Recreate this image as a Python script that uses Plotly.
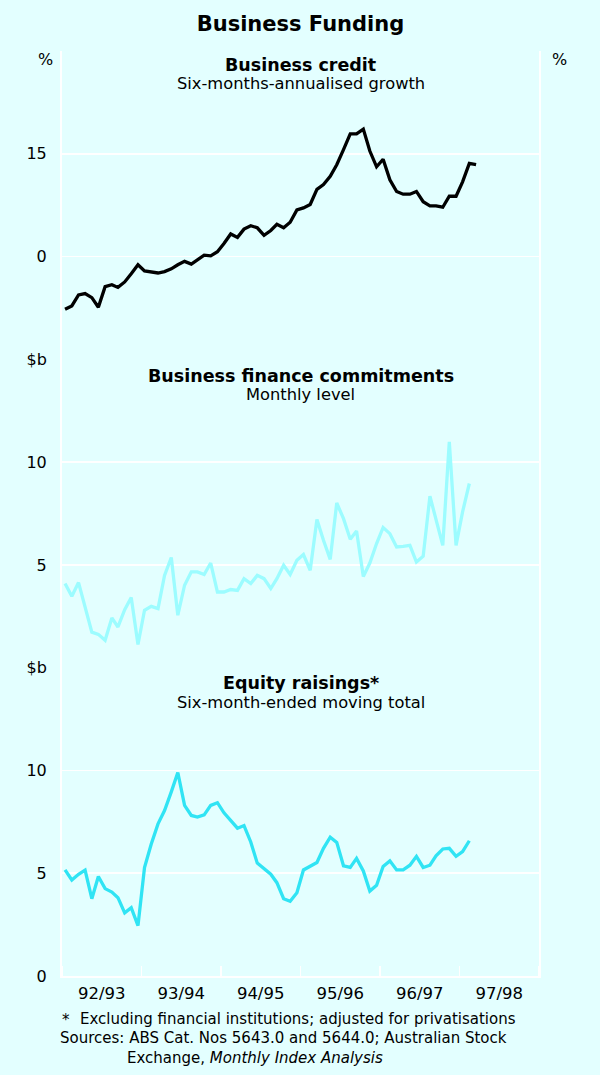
import pandas as pd
import plotly.graph_objects as go

# ---------------- data ----------------
fy_labels = ["92/93", "93/94", "94/95", "95/96", "96/97", "97/98"]
start_month = "1992-07-01"

credit = [-7.7, -7.2, -5.6, -5.4, -6.0, -7.4, -4.4, -4.1, -4.5, -3.7,
          -2.5, -1.2, -2.1, -2.2, -2.4, -2.2, -1.8, -1.2, -0.7, -1.1,
          -0.5, 0.2, 0.1, 0.7, 1.9, 3.3, 2.8, 4.0, 4.5, 4.2,
          3.1, 3.8, 4.7, 4.2, 5.0, 6.8, 7.1, 7.6, 9.8, 10.5,
          11.7, 13.4, 15.6, 17.9, 17.9, 18.6, 15.4, 13.1, 14.2, 11.2,
          9.5, 9.1, 9.1, 9.5, 8.0, 7.4, 7.4, 7.2, 8.8, 8.8,
          10.9, 13.6, 13.4]

commitments = [4.09, 3.47, 4.14, 2.95, 1.73, 1.62, 1.33, 2.42, 1.98, 2.82,
               3.41, 1.13, 2.79, 2.98, 2.87, 4.49, 5.36, 2.55, 4.01, 4.66,
               4.66, 4.53, 5.09, 3.68, 3.68, 3.80, 3.76, 4.33, 4.09, 4.49,
               4.33, 3.85, 4.33, 4.98, 4.53, 5.22, 5.50, 4.74, 7.21, 6.20,
               5.27, 8.01, 7.25, 6.25, 6.65, 4.44, 5.09, 6.04, 6.82, 6.52,
               5.87, 5.90, 5.95, 5.14, 5.42, 8.34, 7.17, 5.95, 10.98, 5.95,
               7.58, 8.96]

equity = [5.16, 4.67, 4.95, 5.15, 3.76, 4.84, 4.25, 4.08, 3.81, 3.07,
          3.32, 2.45, 5.28, 6.42, 7.40, 8.05, 8.96, 9.90, 8.30, 7.81,
          7.73, 7.84, 8.30, 8.43, 7.94, 7.55, 7.19, 7.32, 6.52, 5.49,
          5.20, 4.95, 4.54, 3.76, 3.64, 4.05, 5.16, 5.33, 5.52, 6.21,
          6.75, 6.50, 5.36, 5.28, 5.72, 5.11, 4.13, 4.41, 5.33, 5.60,
          5.16, 5.16, 5.39, 5.82, 5.28, 5.39, 5.85, 6.18, 6.21, 5.82,
          6.05, 6.58]

panel_titles = ["Business credit", "Business finance commitments", "Equity raisings*"]
panel_subtitles = ["Six-months-annualised growth", "Monthly level", "Six-month-ended moving total"]

credit_ticks = [-15, 0, 15, 30]
credit_ticktext = ["", "0", "15", ""]
dollar_ticks = [0, 5, 10, 15]
commit_ticktext = ["", "5", "10", "$b"]
equity_ticktext = ["0", "5", "10", "$b"]

# ---------------- styling ----------------
BG = "#E3FFFF"
FONT = "DejaVu Sans"
GRID = "white"
TICK_SIZE = 16


def month_dates(n):
    return pd.date_range(start_month, periods=n, freq="MS") + pd.Timedelta(days=14)


year_starts = pd.date_range(start_month, periods=len(fy_labels) + 1, freq="12MS")
mid_years = [year_starts[i] + (year_starts[i + 1] - year_starts[i]) / 2 for i in range(len(fy_labels))]
x_range = [year_starts[0], year_starts[-1]]

fig = go.Figure()
fig.add_trace(go.Scatter(x=month_dates(len(credit)), y=credit, mode="lines",
                         line=dict(color="black", width=3.3), xaxis="x", yaxis="y",
                         showlegend=False, hoverinfo="skip"))
fig.add_trace(go.Scatter(x=month_dates(len(commitments)), y=commitments, mode="lines",
                         line=dict(color="#9CFCFF", width=3.3), xaxis="x", yaxis="y2",
                         showlegend=False, hoverinfo="skip"))
fig.add_trace(go.Scatter(x=month_dates(len(equity)), y=equity, mode="lines",
                         line=dict(color="#30E4F4", width=3.3), xaxis="x", yaxis="y3",
                         showlegend=False, hoverinfo="skip"))

domains = [[2 / 3, 1.0], [1 / 3, 2 / 3], [0.0, 1 / 3]]
ranges = [[-15, 30], [0, 15], [0, 15]]
tickvals = [credit_ticks, dollar_ticks, dollar_ticks]
ticktexts = [credit_ticktext, commit_ticktext, equity_ticktext]

layout = dict(
    width=600, height=1075,
    margin=dict(l=62, r=61, t=51, b=99),
    paper_bgcolor=BG, plot_bgcolor=BG,
    font=dict(family=FONT, color="black", size=TICK_SIZE),
    title=dict(text="<b>Business Funding</b>", x=0.5, xref="paper", xanchor="center",
               y=1 - 23.5 / 1075, yref="container", yanchor="middle",
               font=dict(family=FONT, size=21, color="black")),
    xaxis=dict(type="date", range=x_range, anchor="y3", domain=[0, 1],
               tickvals=mid_years, ticktext=fy_labels, ticks="",
               ticklabelstandoff=1,
               tickfont=dict(family=FONT, size=16.5, color="black"),
               minor=dict(tickvals=list(year_starts), ticks="inside", ticklen=10,
                          tickwidth=1.6, tickcolor=GRID, showgrid=False),
               showline=True, linecolor=GRID, linewidth=2,
               showgrid=False, zeroline=False),
    showlegend=False,
)

names = ["yaxis", "yaxis2", "yaxis3"]
for i in range(3):
    layout[names[i]] = dict(
        domain=domains[i], range=ranges[i], anchor="x",
        tickvals=tickvals[i], ticktext=ticktexts[i], ticks="",
        ticklabelstandoff=10,
        showgrid=True, gridcolor=GRID, gridwidth=1.6,
        showline=True, linecolor=GRID, linewidth=2, mirror=True,
        zeroline=False,
        tickfont=dict(family=FONT, size=TICK_SIZE, color="black"),
    )
    layout["yaxis%d" % (i + 4)] = dict(
        overlaying="y" if i == 0 else "y%d" % (i + 1), side="right", anchor="x",
        range=ranges[i], tickvals=tickvals[i], ticktext=ticktexts[i], ticks="",
        ticklabelstandoff=12,
        showgrid=False, showline=False, zeroline=False,
        tickfont=dict(family=FONT, size=TICK_SIZE, color="black"),
    )

fig.update_layout(**layout)

# panel titles and subtitles
yrefs = ["y domain", "y2 domain", "y3 domain"]
title_shift = [-13.5, -16.7, -15.0]
sub_shift = [-32.5, -35.0, -35.0]
ann = []
for i in range(3):
    ann.append(dict(text="<b>%s</b>" % panel_titles[i], xref="paper", x=0.5, yref=yrefs[i], y=1,
                    yanchor="middle", xanchor="center", yshift=title_shift[i], showarrow=False,
                    font=dict(family=FONT, size=17.5, color="black")))
    ann.append(dict(text=panel_subtitles[i], xref="paper", x=0.5, yref=yrefs[i], y=1,
                    yanchor="middle", xanchor="center", yshift=sub_shift[i], showarrow=False,
                    font=dict(family=FONT, size=16.3, color="black")))

# unit label at top of first panel
ann.append(dict(text="%", xref="paper", x=0, xanchor="right", xshift=-7, yref="y", y=30,
                yanchor="middle", yshift=-8.5, showarrow=False,
                font=dict(family=FONT, size=TICK_SIZE, color="black")))
ann.append(dict(text="%", xref="paper", x=1, xanchor="left", xshift=11, yref="y", y=30,
                yanchor="middle", yshift=-8.5, showarrow=False,
                font=dict(family=FONT, size=TICK_SIZE, color="black")))

# footnotes
FN = 15
ann.append(dict(text="*", xref="paper", x=0, xanchor="left", xshift=-2, yref="paper", y=0,
                yanchor="middle", yshift=-44, showarrow=False, font=dict(family=FONT, size=FN)))
ann.append(dict(text="Excluding financial institutions; adjusted for privatisations",
                xref="paper", x=0, xanchor="left", xshift=15.5, yref="paper", y=0,
                yanchor="middle", yshift=-42.5, showarrow=False, font=dict(family=FONT, size=FN)))
ann.append(dict(text="Sources: ABS Cat. Nos 5643.0 and 5644.0; Australian Stock",
                xref="paper", x=0, xanchor="left", xshift=-3.7, yref="paper", y=0,
                yanchor="middle", yshift=-62, showarrow=False, font=dict(family=FONT, size=FN)))
ann.append(dict(text="Exchange, <i>Monthly Index Analysis</i>",
                xref="paper", x=0, xanchor="left", xshift=63.3, yref="paper", y=0,
                yanchor="middle", yshift=-81.5, showarrow=False, font=dict(family=FONT, size=FN)))

fig.update_layout(annotations=ann)
fig.write_html(
    "out.html",
    config={"displayModeBar": False, "staticPlot": True},
    post_script="document.body.style.margin='0';document.body.style.padding='0';"
                "document.body.style.background='%s';" % BG,
)
